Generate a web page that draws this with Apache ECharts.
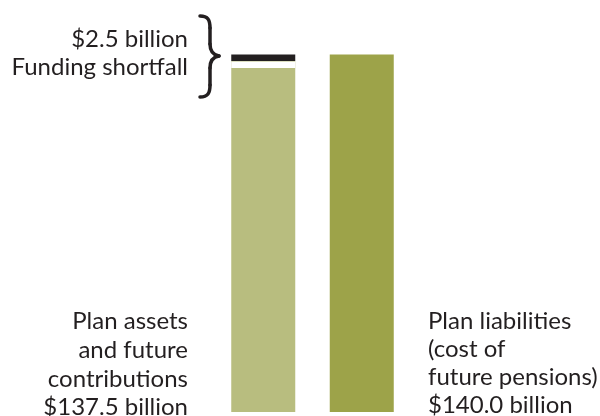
<!DOCTYPE html>
<html><head><meta charset="utf-8">
<script src="https://cdn.jsdelivr.net/npm/echarts@6/dist/echarts.min.js"></script>
<style>html,body{margin:0;padding:0;background:#fff}#c{width:600px;height:416px}</style>
</head><body><div id="c"></div>
<script>
const categories = ['Plan assets', 'Plan liabilities'];
const assets = [137.5, null];
const shortfall = [2.5, null];
const liabilities = [null, 140.0];
const assetLabelLines = ['Plan assets', 'and future', 'contributions'];
const liabilityLabelLines = ['Plan liabilities', '(cost of', 'future pensions)'];
const shortfallLabel = 'Funding shortfall';

const fmt = v => '$' + v.toFixed(1) + ' billion';
const fmtShort = v => '$' + v + ' billion';
const font = 'Lato, "Open Sans", sans-serif';
const ink = '#231f20';
const FS = 24;
const off = 8; // baseline -> middle

const chart = echarts.init(document.getElementById('c'), null, {renderer: 'canvas'});
function txt(text, x, baseline, align) {
  return {type: 'text', x: x, y: baseline - off, silent: true,
    style: {text: text, fill: ink, font: FS + 'px ' + font, align: align, verticalAlign: 'middle'}};
}
const braceStyle = {fill: null, stroke: ink, lineWidth: 3.5, lineCap: 'round'};
chart.setOption({
  animation: false,
  grid: {left: 214, right: 189, top: 54.5, bottom: 4},
  xAxis: {type: 'category', data: categories, show: false},
  yAxis: {type: 'value', min: 0, max: 140, show: false},
  series: [
    {type: 'bar', stack: 'a', data: assets, barWidth: 64, itemStyle: {color: '#b8bd7f'}},
    {type: 'bar', stack: 'a', data: shortfall, barWidth: 64,
     itemStyle: {color: ink, shadowColor: '#ffffff', shadowBlur: 0, shadowOffsetY: 7}},
    {type: 'bar', stack: 'b', data: liabilities, barWidth: 64, barGap: '-100%', itemStyle: {color: '#9da349'}}
  ],
  graphic: [
    txt(fmtShort(shortfall[0]), 188, 47, 'right'),
    txt(shortfallLabel, 188, 75, 'right'),
    {type: 'bezierCurve', shape: {x1: 200, y1: 16, cpx1: 208, cpy1: 16, cpx2: 210, cpy2: 20, x2: 210, y2: 28}, style: braceStyle},
    {type: 'line', shape: {x1: 210, y1: 28, x2: 210, y2: 44}, style: braceStyle},
    {type: 'bezierCurve', shape: {x1: 210, y1: 44, cpx1: 210, cpy1: 51, cpx2: 213, cpy2: 55, x2: 219, y2: 56}, style: braceStyle},
    {type: 'bezierCurve', shape: {x1: 219, y1: 56, cpx1: 213, cpy1: 57, cpx2: 210, cpy2: 61, x2: 210, y2: 68}, style: braceStyle},
    {type: 'line', shape: {x1: 210, y1: 68, x2: 210, y2: 85}, style: braceStyle},
    {type: 'bezierCurve', shape: {x1: 210, y1: 85, cpx1: 210, cpy1: 93, cpx2: 208, cpy2: 97, x2: 200, y2: 97}, style: braceStyle},
    txt(assetLabelLines[0], 188, 329, 'right'),
    txt(assetLabelLines[1], 188, 358, 'right'),
    txt(assetLabelLines[2], 188, 387, 'right'),
    txt(fmt(assets[0]), 188, 415, 'right'),
    txt(liabilityLabelLines[0], 428, 329, 'left'),
    txt(liabilityLabelLines[1], 428, 357, 'left'),
    txt(liabilityLabelLines[2], 428, 385, 'left'),
    txt(fmt(liabilities[1]), 428, 413, 'left')
  ]
});
</script></body></html>
